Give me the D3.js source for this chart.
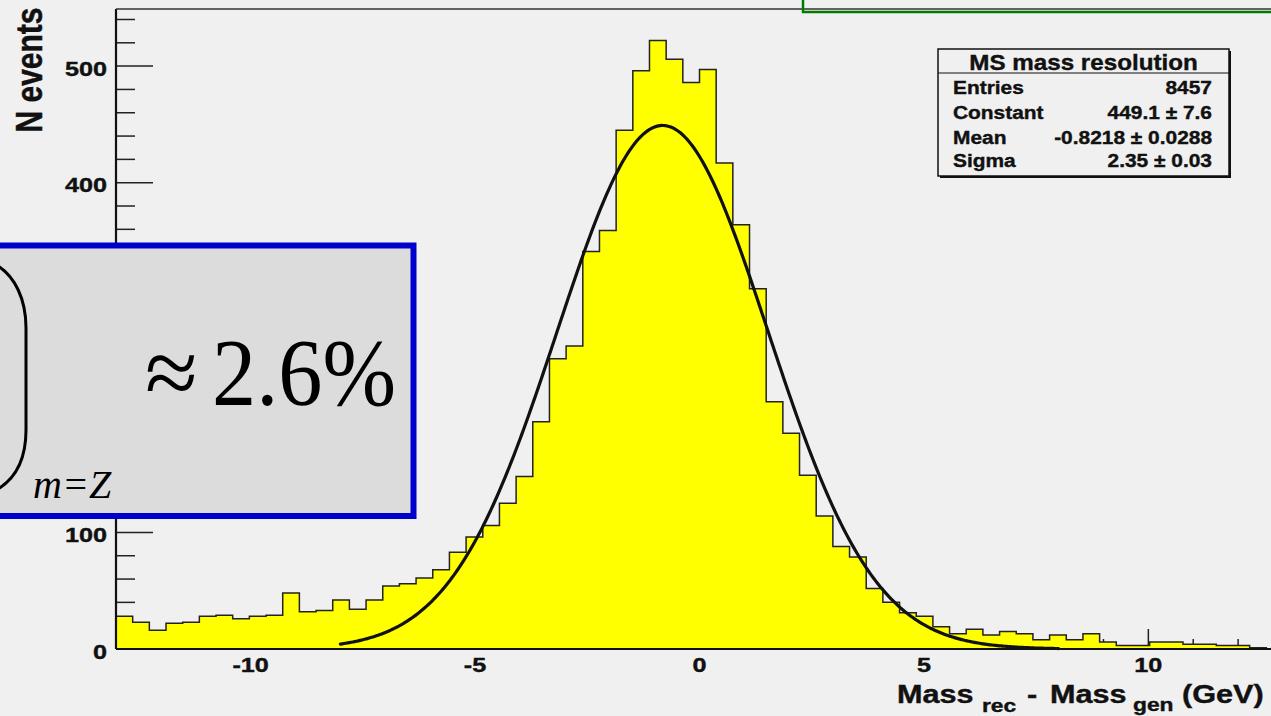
<!DOCTYPE html>
<html>
<head>
<meta charset="utf-8">
<script src="https://cdn.jsdelivr.net/npm/d3@7"></script>
<style>
  html, body { margin: 0; padding: 0; background: #f0f0f0; overflow: hidden; }
  svg { display: block; }
</style>
</head>
<body>
<svg id="chart" width="1271" height="716"></svg>
<script>
// ---- Histogram binning (70 equal bins over the axis range) ----
const xMin = -13, xMax = 13, nBins = 70;

// Bin contents, left to right
const counts = [28, 23, 16, 22, 23, 28, 29, 26, 28, 29,
                48, 32, 33, 42, 34, 42, 54, 56, 61, 68,
                83, 96, 106, 125, 148, 195, 249, 260, 341, 359,
                445, 496, 522, 506, 486, 497, 417, 364, 309, 212,
                185, 149, 114, 88, 79, 52, 40, 31, 28, 19,
                13, 17, 12, 15, 13, 8, 12, 8, 13, 6,
                3, 3, 6, 6, 4, 4, 3, 3, 1, 0];

// ---- Gaussian fit result ----
const fitConst = 449.1, fitMean = -0.8218, fitSigma = 2.35;
const fitRange = [-8, 8];

// ---- Axis ticks ----
const yMax = 549;
const yMajorTicks = [0, 100, 200, 300, 400, 500];
const yMinorTicks = [20, 40, 60, 80, 120, 140, 160, 180, 220, 240, 260, 280,
                     320, 340, 360, 380, 420, 440, 460, 480, 520, 540];
const xMajorTicks = [-10, -5, 0, 5, 10];
const xMinorTicks = [-13, -12, -11, -9, -8, -7, -6, -4, -3, -2, -1,
                     1, 2, 3, 4, 6, 7, 8, 9, 11, 12, 13];

// ---- Statistics box ----
const statTitle = "MS mass resolution";
const statLabels = ["Entries", "Constant", "Mean", "Sigma"];
const statValues = ["8457", "449.1 \u00b1 7.6", "-0.8218 \u00b1 0.0288", "2.35 \u00b1 0.03"];

// ---- Titles ----
const yTitle = "N events";

const sans = "'Liberation Sans', Arial, Helvetica, sans-serif";
const serif = "'Liberation Serif', 'Times New Roman', Times, serif";

const svg = d3.select("#chart");
svg.append("rect").attr("width", 1271).attr("height", 716).attr("fill", "#f0f0f0");

const frame = { left: 116, right: 1283, top: 9, bottom: 649 };
const x = d3.scaleLinear().domain([xMin, xMax]).range([frame.left, frame.right]);
const y = d3.scaleLinear().domain([0, yMax]).range([frame.bottom, frame.top]);

svg.append("defs").append("clipPath").attr("id", "frameClip")
  .append("rect")
  .attr("x", frame.left).attr("y", frame.top)
  .attr("width", frame.right - frame.left).attr("height", frame.bottom - frame.top);

// text helper with horizontal stretch
function label(parent, str, px, py, o) {
  return parent.append("text")
    .attr("transform", `translate(${px},${py}) scale(${o.sx || 1},1)`)
    .attr("font-family", o.family || sans)
    .attr("font-size", o.size)
    .attr("font-weight", o.weight || "bold")
    .attr("font-style", o.style || "normal")
    .attr("text-anchor", o.anchor || "start")
    .attr("fill", o.fill || "#111")
    .attr("stroke", o.fill || "#111")
    .attr("stroke-width", o.heavy == null ? 0.4 : o.heavy)
    .text(str);
}

// ---- Tick marks (inside the frame, under the histogram) ----
const ticks = svg.append("g").attr("stroke", "#222").attr("stroke-width", 1.5);
ticks.selectAll("line.ymaj").data(yMajorTicks).join("line")
  .attr("x1", frame.left).attr("x2", frame.left + 37)
  .attr("y1", d => y(d)).attr("y2", d => y(d));
ticks.selectAll("line.ymin").data(yMinorTicks).join("line")
  .attr("x1", frame.left).attr("x2", frame.left + 19)
  .attr("y1", d => y(d)).attr("y2", d => y(d));
ticks.selectAll("line.xmaj").data(xMajorTicks).join("line")
  .attr("x1", d => x(d)).attr("x2", d => x(d))
  .attr("y1", frame.bottom).attr("y2", frame.bottom - 20);
ticks.selectAll("line.xmin").data(xMinorTicks).join("line")
  .attr("x1", d => x(d)).attr("x2", d => x(d))
  .attr("y1", frame.bottom).attr("y2", frame.bottom - 10);

// ---- Histogram ----
const binW = (xMax - xMin) / nBins;
const bins = counts.map((c, i) => ({ x0: xMin + i * binW, x1: xMin + (i + 1) * binW, c }));
const outline = [[xMin, 0]];
bins.forEach(b => { outline.push([b.x0, b.c]); outline.push([b.x1, b.c]); });
outline.push([xMax, 0]);

const histLine = d3.line().x(d => x(d[0])).y(d => y(d[1]));
const hist = svg.append("g").attr("clip-path", "url(#frameClip)");
hist.append("path")
  .attr("d", histLine(outline) + "Z")
  .attr("fill", "#ffff00")
  .attr("stroke", "none");
hist.append("path")
  .attr("d", histLine(outline))
  .attr("fill", "none")
  .attr("stroke", "#222")
  .attr("stroke-width", 1.5);

// ---- Gaussian fit curve ----
const gauss = v => fitConst * Math.exp(-0.5 * Math.pow((v - fitMean) / fitSigma, 2));
const fitPts = d3.range(fitRange[0], fitRange[1] + 1e-9, 0.04).map(v => [v, gauss(v)]);
svg.append("path")
  .attr("d", d3.line().x(d => x(d[0])).y(d => y(d[1])).curve(d3.curveLinear)(fitPts))
  .attr("fill", "none")
  .attr("stroke", "#111")
  .attr("stroke-width", 3.2)
  .attr("stroke-linecap", "round");

// ---- Frame and axes ----
const axes = svg.append("g").attr("stroke", "#111").attr("fill", "none");
axes.append("line").attr("x1", frame.left).attr("x2", frame.left)
  .attr("y1", frame.top).attr("y2", frame.bottom).attr("stroke-width", 2.2);
axes.append("line").attr("x1", frame.left).attr("x2", frame.right)
  .attr("y1", frame.bottom).attr("y2", frame.bottom).attr("stroke-width", 2);
axes.append("line").attr("x1", frame.left).attr("x2", frame.right)
  .attr("y1", frame.top).attr("y2", frame.top).attr("stroke", "#333").attr("stroke-width", 1.5);

// ---- Tick labels ----
yMajorTicks.forEach(t => label(svg, String(t), 107, y(t) + 9.5, { size: 21, sx: 1.2, anchor: "end" }));
xMajorTicks.forEach(t => label(svg, String(t), x(t), 672, { size: 21, sx: 1.2, anchor: "middle" }));

// ---- Axis titles ----
svg.append("text")
  .attr("transform", "translate(42,70) rotate(-90) scale(1,1.2)")
  .attr("font-family", sans).attr("font-size", 30).attr("font-weight", "bold")
  .attr("text-anchor", "middle").attr("fill", "#111")
  .attr("stroke", "#111").attr("stroke-width", 0.4)
  .text(yTitle);

label(svg, "Mass", 897, 703, { size: 25.5, sx: 1.2 });
label(svg, "rec", 982, 712, { size: 19, sx: 1.2 });
label(svg, "-", 1027, 703, { size: 25.5, sx: 1.2 });
label(svg, "Mass", 1050, 703, { size: 25.5, sx: 1.2 });
label(svg, "gen", 1133, 711, { size: 19, sx: 1.2 });
label(svg, "(GeV)", 1182, 703, { size: 25.5, sx: 1.2 });

// ---- Statistics box ----
const sb = { x0: 938, y0: 49, x1: 1229, y1: 176 };
const stats = svg.append("g");
stats.append("rect")
  .attr("x", sb.x0 + 2).attr("y", sb.y0 + 2)
  .attr("width", sb.x1 - sb.x0).attr("height", sb.y1 - sb.y0)
  .attr("fill", "#111");
stats.append("rect")
  .attr("x", sb.x0).attr("y", sb.y0)
  .attr("width", sb.x1 - sb.x0).attr("height", sb.y1 - sb.y0)
  .attr("fill", "#f0f0f0").attr("stroke", "#111").attr("stroke-width", 1.5);
stats.append("line")
  .attr("x1", sb.x0).attr("x2", sb.x1).attr("y1", 73).attr("y2", 73)
  .attr("stroke", "#111").attr("stroke-width", 1.2);
label(stats, statTitle, (sb.x0 + sb.x1) / 2, 70, { size: 22, sx: 1.1, anchor: "middle" });
const rowBase = [94, 119, 144, 167];
statLabels.forEach((s, i) => label(stats, s, 953, rowBase[i], { size: 19, sx: 1.1 }));
statValues.forEach((s, i) => label(stats, s, 1212, rowBase[i], { size: 19, sx: 1.1, anchor: "end" }));

// ---- Resolution note ----
const note = svg.append("g");
note.append("rect")
  .attr("x", -10).attr("y", 245.5)
  .attr("width", 423.5).attr("height", 270.5)
  .attr("fill", "#dcdcdc").attr("stroke", "#0000cc").attr("stroke-width", 6);
note.append("path")
  .attr("d", "M -2,266 C 14,276 26,298 26,328 L 26,430 C 26,458 16,478 -2,489")
  .attr("fill", "none").attr("stroke", "#000").attr("stroke-width", 3);
note.append("text")
  .attr("x", 145).attr("y", 405)
  .attr("font-family", serif).attr("font-size", 96)
  .attr("fill", "#000")
  .text("\u2248");
note.append("text")
  .attr("x", 212).attr("y", 405)
  .attr("font-family", serif).attr("font-size", 96)
  .attr("fill", "#000")
  .attr("textLength", 184).attr("lengthAdjust", "spacingAndGlyphs")
  .text("2.6%");
note.append("text")
  .attr("x", 33).attr("y", 498)
  .attr("font-family", serif).attr("font-size", 40).attr("font-style", "italic")
  .attr("fill", "#000")
  .text("m=Z");

// ---- Outline box at the top edge ----
svg.append("rect")
  .attr("x", 803).attr("y", -20).attr("width", 520).attr("height", 32)
  .attr("fill", "none").attr("stroke", "#007a00").attr("stroke-width", 2.5);
</script>
</body>
</html>
